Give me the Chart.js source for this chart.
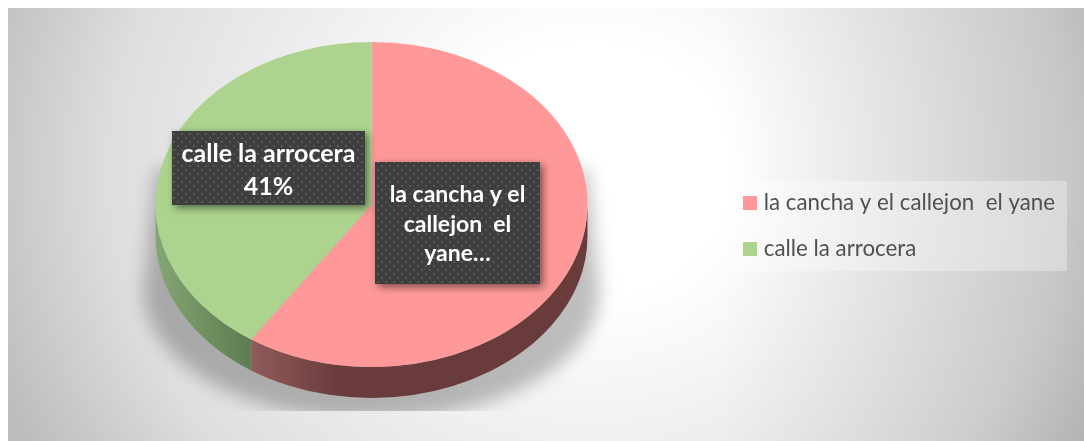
<!DOCTYPE html>
<html>
<head>
<meta charset="utf-8">
<style>html,body{margin:0;padding:0;background:#fff;overflow:hidden}#wrap{width:1084px;height:441px;position:relative}</style>
<script src="https://cdn.jsdelivr.net/npm/chart.js@4"></script>
</head>
<body>
<div id="wrap"><canvas id="c" width="1084" height="441"></canvas></div>
<script>
const categories = ['la cancha y el callejon  el yane', 'calle la arrocera'];
const values = [59.4, 40.6];
const sliceColors = ['#FF9999', '#ADD48F'];
const sideLight = ['#925A5A', '#84A574'];
const sideDark = ['#693B3B', '#5E7C50'];
const labelLines = [['la cancha y el', 'callejon  el', 'yane…'], ['calle la arrocera', '41%']];

const FONT = 'Lato, Carlito, sans-serif';
const PIE = {cy: 204.5, ry: 162.5, depth: 31};
const FRAME = {x: 8, y: 8, w: 1076, h: 433};

function square(color) {
  const s = document.createElement('canvas');
  s.width = s.height = 14;
  const g = s.getContext('2d');
  g.fillStyle = color;
  g.fillRect(0, 0, 14, 14);
  return s;
}
function dots() {
  const s = document.createElement('canvas');
  s.width = s.height = 8;
  const g = s.getContext('2d');
  g.fillStyle = '#3e3e3e';
  g.fillRect(0, 0, 8, 8);
  g.fillStyle = '#585858';
  g.fillRect(1, 1, 2, 2);
  g.fillRect(5, 5, 2, 2);
  return s;
}
function drawBox(ctx, pattern, b, lines, font, lineH, firstY) {
  ctx.save();
  ctx.shadowColor = 'rgba(0,0,0,0.5)';
  ctx.shadowBlur = 8;
  ctx.shadowOffsetX = 3;
  ctx.shadowOffsetY = 3;
  ctx.fillStyle = '#3e3e3e';
  ctx.fillRect(b.x, b.y, b.w, b.h);
  ctx.restore();
  ctx.fillStyle = pattern;
  ctx.fillRect(b.x, b.y, b.w, b.h);
  ctx.fillStyle = '#fff';
  ctx.font = font;
  ctx.textAlign = 'center';
  ctx.textBaseline = 'middle';
  lines.forEach((t, i) => ctx.fillText(t, b.x + b.w / 2, firstY + i * lineH));
}

const pie3d = {
  id: 'pie3d',
  afterLayout(chart) {
    chart.legend.top += 1;
    chart.legend.bottom += 1;
  },
  beforeDraw(chart) {
    const ctx = chart.ctx, a = chart.getDatasetMeta(0).data[0];
    ctx.save();
    ctx.beginPath();
    ctx.rect(FRAME.x, FRAME.y, FRAME.w, FRAME.h);
    ctx.clip();
    ctx.save();
    ctx.translate(590, 170);
    ctx.scale(1, 0.9);
    const g = ctx.createRadialGradient(0, 0, 0, 0, 0, 640);
    g.addColorStop(0, '#ffffff');
    g.addColorStop(0.22, '#ffffff');
    g.addColorStop(0.75, '#dedede');
    g.addColorStop(1, '#bcbcbc');
    ctx.fillStyle = g;
    ctx.fillRect(-700, -300, 1600, 900);
    ctx.restore();
    const side = ctx.createLinearGradient(720, 0, 1084, 0);
    side.addColorStop(0, 'rgba(0,0,0,0)');
    side.addColorStop(1, 'rgba(0,0,0,0.11)');
    ctx.fillStyle = side;
    ctx.fillRect(720, 0, 364, 441);
    // cast shadow under the pie, cut off at its lower edge
    ctx.beginPath();
    ctx.rect(0, 0, 1084, 411);
    ctx.clip();
    ctx.filter = 'blur(9px)';
    ctx.fillStyle = 'rgba(0,0,0,0.25)';
    ctx.beginPath();
    const r = a.outerRadius + 6;
    ctx.moveTo(a.x - r + 6, 170);
    ctx.lineTo(a.x + r - 6, 170);
    ctx.lineTo(a.x + r + 6, 290);
    ctx.ellipse(a.x, 290, r + 6, 130, 0, 0, Math.PI);
    ctx.closePath();
    ctx.fill();
    ctx.filter = 'none';
    ctx.restore();
    // legend panel
    ctx.fillStyle = 'rgba(255,255,255,0.32)';
    ctx.fillRect(732, 181, 335, 90);
  },
  beforeDatasetsDraw(chart) {
    const ctx = chart.ctx, arcs = chart.getDatasetMeta(0).data;
    const a0 = arcs[0], rx = a0.outerRadius, ry = PIE.ry;
    arcs.forEach((a, i) => {
      const from = Math.max(a.startAngle, 0), to = Math.min(a.endAngle, Math.PI);
      if (to <= from) return;
      const x1 = a.x + rx * Math.cos(from), x2 = a.x + rx * Math.cos(to);
      ctx.beginPath();
      ctx.ellipse(a.x, PIE.cy, rx, ry, 0, from, to);
      ctx.ellipse(a.x, PIE.cy + PIE.depth, rx, ry, 0, to, from, true);
      ctx.closePath();
      const g = i === 0
        ? ctx.createLinearGradient(x2, 0, x2 + 90, 0)
        : ctx.createLinearGradient(x2, 0, x1, 0);
      g.addColorStop(0, sideLight[i]);
      g.addColorStop(1, sideDark[i]);
      ctx.fillStyle = g;
      ctx.fill();
    });
    ctx.save();
    ctx.translate(a0.x, PIE.cy);
    ctx.scale(1, ry / rx);
    ctx.translate(-a0.x, -a0.y);
  },
  afterDatasetsDraw(chart) {
    const ctx = chart.ctx;
    ctx.restore();
    const p = ctx.createPattern(dots(), 'repeat');
    const pct = Math.round(values[1] / (values[0] + values[1]) * 100) + '%';
    drawBox(ctx, p, {x: 375, y: 162, w: 165, h: 122}, labelLines[0], 'bold 23px ' + FONT, 29.5, 195);
    drawBox(ctx, p, {x: 172, y: 131, w: 193, h: 74}, [labelLines[1][0], pct], 'bold 25px ' + FONT, 33, 154);
  }
};

new Chart(document.getElementById('c'), {
  type: 'pie',
  data: {
    labels: categories,
    datasets: [{data: values, backgroundColor: sliceColors, borderWidth: 0, hoverOffset: 0}]
  },
  options: {
    responsive: false,
    animation: false,
    events: [],
    radius: 216,
    layout: {padding: {left: 20, right: 19, top: 9, bottom: 0}},
    plugins: {
      tooltip: {enabled: false},
      title: {display: false},
      legend: {
        position: 'right',
        align: 'center',
        labels: {
          usePointStyle: true,
          pointStyleWidth: 6,
          boxWidth: 6,
          boxHeight: 14,
          padding: 23.6,
          color: '#505050',
          font: {family: FONT, size: 22.3},
          generateLabels(chart) {
            return categories.map((t, i) => ({
              text: t, index: i, fillStyle: sliceColors[i], strokeStyle: sliceColors[i],
              lineWidth: 0, hidden: false, fontColor: '#505050', pointStyle: square(sliceColors[i])
            }));
          }
        }
      }
    }
  },
  plugins: [pie3d]
});
</script>
</body>
</html>
